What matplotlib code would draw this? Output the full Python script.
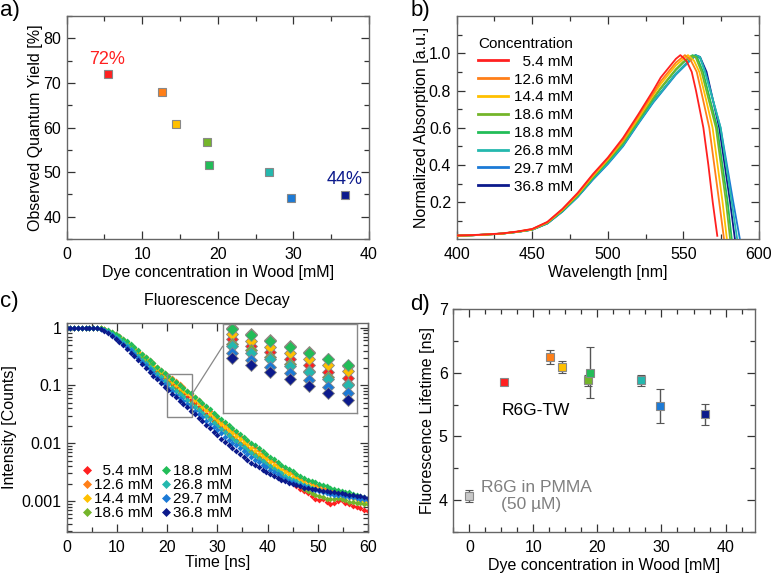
import matplotlib.pyplot as plt
import numpy as np
from matplotlib.lines import Line2D
from matplotlib.patches import Rectangle, ConnectionPatch
from matplotlib.ticker import MultipleLocator, FixedLocator, FixedFormatter, LogLocator, NullFormatter

plt.rcParams['font.family'] = ['Liberation Sans', 'DejaVu Sans']
plt.rcParams['font.size'] = 11.5

# --- shared sample info ---
conc = [5.4, 12.6, 14.4, 18.6, 18.8, 26.8, 29.7, 36.8]
conc_labels = ['  5.4 mM', '12.6 mM', '14.4 mM', '18.6 mM',
               '18.8 mM', '26.8 mM', '29.7 mM', '36.8 mM']
colors = ['#ff2020', '#ff7f18', '#ffc000', '#74b52a',
          '#22bd58', '#24b8ae', '#1c7ad6', '#0c1a8c']

# a) quantum yield
quantum_yield = [72, 68, 60.7, 56.7, 51.6, 50, 44.3, 44.8]

# b) absorption spectra (wavelength nm, normalized absorption)
wl_rise = [400, 410, 420, 430, 440, 450, 460, 470, 480, 490, 500, 510, 520, 530]
abs_red = [0.022, 0.024, 0.028, 0.033, 0.043, 0.057, 0.095, 0.165, 0.25, 0.35, 0.44, 0.545, 0.67, 0.80,
           0.87, 0.92, 0.97, 0.99, 0.96, 0.90, 0.80, 0.60, 0.40, 0.20, 0.02]
wl_red = wl_rise + [535, 540, 545, 548, 552, 555.5, 558.3, 563.2, 566.5, 569.4, 572.4]
abs_orange = [0.021, 0.023, 0.027, 0.032, 0.042, 0.056, 0.093, 0.162, 0.245, 0.345, 0.435, 0.535, 0.66, 0.785,
              0.85, 0.90, 0.95, 0.99, 0.96, 0.90, 0.75, 0.60, 0.40, 0.20, 0.0]
wl_orange = wl_rise + [535, 540, 545, 551, 555, 558.8, 563, 567.1, 570.4, 573.7, 576.9]
abs_yellow = [0.021, 0.023, 0.027, 0.032, 0.042, 0.055, 0.092, 0.16, 0.242, 0.34, 0.43, 0.53, 0.65, 0.775,
              0.835, 0.885, 0.935, 0.97, 0.99, 0.96, 0.90, 0.75, 0.60, 0.40, 0.20, 0.0]
wl_yellow = wl_rise + [535, 540, 545, 550, 553, 557, 560.5, 565, 569.3, 572.6, 575.9, 578.8]
abs_yg = [0.021, 0.023, 0.027, 0.032, 0.041, 0.054, 0.09, 0.157, 0.238, 0.335, 0.425, 0.52, 0.64, 0.76,
          0.815, 0.865, 0.915, 0.955, 0.985, 0.98, 0.90, 0.75, 0.60, 0.40, 0.20, 0.0]
wl_yg = wl_rise + [535, 540, 545, 550, 555, 558, 562, 566.7, 571.5, 574.8, 578.2, 580.9]
abs_green = [0.021, 0.023, 0.027, 0.032, 0.041, 0.054, 0.089, 0.155, 0.235, 0.33, 0.42, 0.515, 0.635, 0.755,
             0.81, 0.86, 0.91, 0.95, 0.99, 0.98, 0.90, 0.75, 0.60, 0.40, 0.20, 0.0]
wl_green = wl_rise + [535, 540, 545, 550, 556, 559, 563, 567.7, 572.4, 575.8, 579.3, 582]
abs_teal = [0.021, 0.023, 0.027, 0.032, 0.041, 0.053, 0.087, 0.152, 0.23, 0.325, 0.41, 0.505, 0.625, 0.74,
            0.79, 0.84, 0.89, 0.93, 0.97, 0.99, 0.98, 0.90, 0.75, 0.60, 0.40, 0.20, 0.0]
wl_teal = wl_rise + [535, 540, 545, 550, 555, 558, 561, 564.3, 569.5, 574.6, 578.3, 582, 585.6]
abs_blue = [0.021, 0.023, 0.027, 0.032, 0.041, 0.053, 0.086, 0.15, 0.228, 0.32, 0.405, 0.50, 0.62, 0.735,
            0.785, 0.835, 0.885, 0.925, 0.965, 0.985, 0.975, 0.90, 0.75, 0.60, 0.40, 0.20, 0.0]
wl_blue = wl_rise + [535, 540, 545, 550, 555, 558, 561, 564.5, 569.5, 574.6, 578.8, 583, 587.4]
abs_navy = [0.021, 0.023, 0.027, 0.032, 0.041, 0.053, 0.087, 0.152, 0.23, 0.325, 0.41, 0.505, 0.625, 0.74,
            0.79, 0.84, 0.89, 0.93, 0.97, 0.99, 0.98, 0.90, 0.75, 0.60, 0.40, 0.20, 0.0]
wl_navy = wl_rise + [535, 540, 545, 550, 555, 558, 561, 565.3, 569.5, 573.7, 577.3, 580.9, 584.1]

spectra_wl = [wl_red, wl_orange, wl_yellow, wl_yg, wl_green, wl_teal, wl_blue, wl_navy]
spectra_abs = [abs_red, abs_orange, abs_yellow, abs_yg, abs_green, abs_teal, abs_blue, abs_navy]

# c) fluorescence decay, log10 of normalized counts, one sample every 0.75 ns
decay_step_ns = 0.75
log_red = [0, 0, 0, 0, 0, 0, 0, 0, 0,
           -0.01, -0.03, -0.06, -0.095, -0.135, -0.18, -0.23, -0.28, -0.335, -0.39, -0.45, -0.51,
           -0.57, -0.63, -0.69, -0.75, -0.81, -0.865, -0.925, -0.98, -1.035, -1.09, -1.145, -1.20,
           -1.255, -1.31, -1.37, -1.43, -1.49, -1.55, -1.61, -1.67, -1.725, -1.78, -1.835, -1.89,
           -1.94, -1.99, -2.04, -2.09, -2.14, -2.19, -2.24, -2.29, -2.34, -2.39, -2.44, -2.49,
           -2.54, -2.59, -2.64, -2.69, -2.74, -2.79, -2.83, -2.87, -2.92, -2.96, -2.99, -2.97,
           -3.01, -3.06, -3.03, -3.00, -2.99, -3.04, -3.06, -3.08, -3.10, -3.13, -3.15, -3.17]
log_orange = [0, 0, 0, 0, 0, 0, 0, 0, 0,
              -0.01, -0.03, -0.055, -0.085, -0.115, -0.15, -0.195, -0.245, -0.295, -0.345, -0.40, -0.455,
              -0.51, -0.565, -0.62, -0.675, -0.73, -0.78, -0.83, -0.88, -0.93, -0.98, -1.035, -1.09,
              -1.15, -1.205, -1.26, -1.32, -1.38, -1.44, -1.50, -1.56, -1.61, -1.67, -1.72, -1.77,
              -1.82, -1.87, -1.92, -1.97, -2.02, -2.07, -2.12, -2.17, -2.22, -2.27, -2.31, -2.36,
              -2.40, -2.44, -2.48, -2.52, -2.56, -2.60, -2.63, -2.66, -2.69, -2.72, -2.75, -2.77,
              -2.79, -2.81, -2.83, -2.85, -2.86, -2.87, -2.88, -2.90, -2.93, -2.96, -2.98, -3.00]
log_yellow = [0, 0, 0, 0, 0, 0, 0, 0, 0,
              -0.01, -0.03, -0.06, -0.09, -0.13, -0.17, -0.215, -0.265, -0.32, -0.375, -0.43, -0.49,
              -0.545, -0.60, -0.66, -0.715, -0.77, -0.83, -0.885, -0.94, -0.99, -1.04, -1.09, -1.14,
              -1.19, -1.25, -1.31, -1.37, -1.43, -1.49, -1.55, -1.61, -1.665, -1.72, -1.775, -1.83,
              -1.88, -1.93, -1.98, -2.03, -2.08, -2.13, -2.18, -2.23, -2.28, -2.33, -2.37, -2.42,
              -2.46, -2.50, -2.54, -2.58, -2.62, -2.65, -2.69, -2.72, -2.75, -2.78, -2.80, -2.82,
              -2.84, -2.86, -2.88, -2.90, -2.91, -2.92, -2.93, -2.95, -2.97, -2.99, -3.00, -3.02]
log_yg = [0, 0, 0, 0, 0, 0, 0, 0, 0,
          -0.015, -0.04, -0.07, -0.11, -0.15, -0.195, -0.245, -0.30, -0.355, -0.415, -0.475, -0.535,
          -0.595, -0.655, -0.72, -0.78, -0.84, -0.905, -0.965, -1.02, -1.08, -1.135, -1.19, -1.245,
          -1.30, -1.355, -1.41, -1.47, -1.525, -1.58, -1.64, -1.695, -1.75, -1.80, -1.855, -1.91,
          -1.96, -2.01, -2.06, -2.11, -2.16, -2.21, -2.26, -2.31, -2.36, -2.41, -2.455, -2.50,
          -2.545, -2.59, -2.63, -2.67, -2.71, -2.75, -2.79, -2.83, -2.86, -2.89, -2.92, -2.94,
          -2.96, -2.97, -2.96, -2.95, -2.97, -2.99, -3.01, -3.02, -3.03, -3.04, -3.05, -3.06]
log_green = [0, 0, 0, 0, 0, 0, 0, 0, 0,
             -0.01, -0.025, -0.05, -0.08, -0.11, -0.145, -0.19, -0.24, -0.29, -0.34, -0.395, -0.45,
             -0.505, -0.56, -0.62, -0.675, -0.73, -0.785, -0.84, -0.89, -0.94, -0.99, -1.04, -1.09,
             -1.14, -1.195, -1.25, -1.30, -1.36, -1.41, -1.47, -1.53, -1.58, -1.63, -1.69, -1.74,
             -1.79, -1.84, -1.89, -1.94, -1.99, -2.04, -2.09, -2.14, -2.19, -2.24, -2.28, -2.33,
             -2.37, -2.41, -2.45, -2.49, -2.53, -2.56, -2.60, -2.63, -2.66, -2.68, -2.71, -2.73,
             -2.75, -2.77, -2.79, -2.81, -2.83, -2.84, -2.85, -2.88, -2.90, -2.92, -2.94, -2.97]
log_teal = [0, 0, 0, 0, 0, 0, 0, 0, 0,
            -0.02, -0.045, -0.075, -0.115, -0.16, -0.205, -0.255, -0.31, -0.37, -0.43, -0.49, -0.555,
            -0.615, -0.68, -0.74, -0.80, -0.86, -0.92, -0.98, -1.04, -1.095, -1.15, -1.205, -1.26,
            -1.315, -1.37, -1.425, -1.48, -1.535, -1.59, -1.645, -1.70, -1.755, -1.81, -1.865, -1.92,
            -1.97, -2.02, -2.07, -2.12, -2.17, -2.22, -2.27, -2.315, -2.36, -2.40, -2.44, -2.48,
            -2.52, -2.56, -2.60, -2.63, -2.66, -2.69, -2.72, -2.75, -2.77, -2.79, -2.81, -2.83,
            -2.85, -2.87, -2.88, -2.89, -2.88, -2.90, -2.92, -2.93, -2.94, -2.95, -2.96, -2.97]
log_blue = [0, 0, 0, 0, 0, 0, 0, 0, 0,
            -0.025, -0.05, -0.085, -0.13, -0.175, -0.225, -0.28, -0.335, -0.395, -0.46, -0.525, -0.59,
            -0.655, -0.72, -0.785, -0.85, -0.915, -0.975, -1.04, -1.10, -1.16, -1.215, -1.27, -1.325,
            -1.38, -1.44, -1.50, -1.555, -1.61, -1.665, -1.72, -1.775, -1.83, -1.885, -1.94, -1.99,
            -2.04, -2.09, -2.14, -2.19, -2.24, -2.285, -2.33, -2.375, -2.42, -2.46, -2.50, -2.54,
            -2.58, -2.615, -2.65, -2.68, -2.71, -2.73, -2.75, -2.77, -2.79, -2.81, -2.83, -2.85,
            -2.86, -2.88, -2.89, -2.90, -2.89, -2.91, -2.93, -2.94, -2.95, -2.96, -2.97, -2.98]
log_navy = [0, 0, 0, 0, 0, 0, 0, 0, 0,
            -0.03, -0.06, -0.10, -0.15, -0.20, -0.255, -0.31, -0.37, -0.435, -0.50, -0.565, -0.63,
            -0.70, -0.765, -0.83, -0.895, -0.96, -1.02, -1.085, -1.145, -1.205, -1.265, -1.32, -1.38,
            -1.44, -1.50, -1.56, -1.62, -1.68, -1.74, -1.80, -1.86, -1.92, -1.975, -2.03, -2.085,
            -2.14, -2.19, -2.24, -2.29, -2.34, -2.38, -2.42, -2.46, -2.50, -2.54, -2.57, -2.60,
            -2.63, -2.66, -2.69, -2.71, -2.73, -2.75, -2.77, -2.78, -2.79, -2.80, -2.81, -2.82,
            -2.83, -2.84, -2.85, -2.86, -2.86, -2.88, -2.89, -2.90, -2.91, -2.92, -2.93, -2.95]
decay_logs = [log_red, log_orange, log_yellow, log_yg, log_green, log_teal, log_blue, log_navy]

# d) lifetimes
lifetime = [5.86, 6.25, 6.09, 5.88, 6.0, 5.88, 5.48, 5.35]
lifetime_err = [0.03, 0.105, 0.095, 0.09, 0.4, 0.09, 0.27, 0.165]
pmma_conc = [0]
pmma_lifetime = [4.06]
pmma_err = [0.09]

SPINE = '#666666'
TICK = '#333333'


def style(ax):
    for s in ax.spines.values():
        s.set_color(SPINE)
        s.set_linewidth(1.0)
    ax.tick_params(which='both', direction='in', top=True, right=True, color=TICK, width=0.9)
    ax.tick_params(which='major', length=6)
    ax.tick_params(which='minor', length=3.5)
    ax.tick_params(axis='x', pad=6)
    ax.tick_params(axis='y', pad=4)


fig = plt.figure(figsize=(7.71, 5.74), dpi=100)
W, H = 771, 574


def box(l, t, r, b):
    return [l / W, 1 - b / H, (r - l) / W, (b - t) / H]


# ---------------- a) ----------------
ax = fig.add_axes(box(66.7, 16, 369, 239))
for x, y, c in zip(conc, quantum_yield, colors):
    ax.plot(x, y, 's', color=c, ms=5.5, mec='#888888', mew=0.8)
ax.text(5.3, 75.3, '72%', color=colors[0], ha='center', va='center', fontsize=13)
ax.text(36.8, 48.3, '44%', color=colors[-1], ha='center', va='center', fontsize=13)
ax.set_xlim(0, 40)
ax.set_ylim(35, 85)
ax.xaxis.set_major_locator(MultipleLocator(10))
ax.xaxis.set_minor_locator(MultipleLocator(5))
ax.yaxis.set_major_locator(FixedLocator([40, 50, 60, 70, 80]))
ax.yaxis.set_minor_locator(MultipleLocator(5))
ax.set_xlabel('Dye concentration in Wood [mM]', labelpad=2)
ax.set_ylabel('Observed Quantum Yield [%]', labelpad=0)
style(ax)

# ---------------- b) ----------------
ax = fig.add_axes(box(456.7, 16, 759, 239))
lines = []
for wl, ab, c, lab in zip(spectra_wl, spectra_abs, colors, conc_labels):
    ln, = ax.plot(wl, ab, '-', color=c, lw=1.3, label=lab)
    lines.append(ln)
for i, ln in enumerate(lines):
    ln.set_zorder(10 - i)
ax.set_xlim(400, 600)
ax.set_ylim(0.003, 1.2)
ax.xaxis.set_major_locator(MultipleLocator(50))
ax.xaxis.set_minor_locator(MultipleLocator(25))
ax.yaxis.set_major_locator(FixedLocator([0.2, 0.4, 0.6, 0.8, 1.0]))
ax.yaxis.set_minor_locator(FixedLocator([0.1, 0.3, 0.5, 0.7, 0.9, 1.1]))
ax.yaxis.set_major_formatter(FixedFormatter(['0.2', '0.4', '0.6', '0.8', '1.0']))
ax.set_xlabel('Wavelength [nm]', labelpad=2)
ax.set_ylabel('Normalized Absorption [a.u.]', labelpad=0)
leg = ax.legend(handles=lines, title='Concentration', loc='upper left',
                bbox_to_anchor=(0.045, 0.94), frameon=False, borderpad=0,
                handlelength=2.0, handletextpad=0.35, labelspacing=0.25,
                fontsize=11, title_fontsize=11, alignment='left')
for h in leg.legend_handles:
    h.set_linewidth(2)
style(ax)

# ---------------- c) ----------------
ax = fig.add_axes(box(66.7, 323, 368, 532))
decay_time = np.arange(len(log_red)) * decay_step_ns
for lg, c in zip(decay_logs, colors):
    ax.plot(decay_time, 10 ** np.array(lg), 'D', color=c, ms=3.0, mew=0)
ax.set_yscale('log')
ax.set_xlim(0, 60)
ax.set_ylim(2.9e-4, 1.2)
ax.xaxis.set_major_locator(MultipleLocator(10))
ax.xaxis.set_minor_locator(MultipleLocator(5))
ax.yaxis.set_major_locator(FixedLocator([1e-3, 1e-2, 1e-1, 1]))
ax.yaxis.set_major_formatter(FixedFormatter(['0.001', '0.01', '0.1', '1']))
ax.yaxis.set_minor_locator(LogLocator(base=10, subs=np.arange(2, 10)))
ax.yaxis.set_minor_formatter(NullFormatter())
ax.set_xlabel('Time [ns]', labelpad=0)
ax.set_ylabel('Intensity [Counts]', labelpad=3)
ax.set_title('Fluorescence Decay', fontsize=11.5, pad=13)
handles = [Line2D([], [], ls='none', marker='D', ms=4.5, mfc=c, mec=c, mew=0.5)
           for c in colors]
ax.legend(handles, conc_labels, ncol=2, loc='lower left', bbox_to_anchor=(0.03, 0.02),
          frameon=False, borderpad=0, handlelength=0.5, handletextpad=0.2,
          columnspacing=0.6, labelspacing=0.0, fontsize=11)
style(ax)

# zoom rectangle + inset
zx0, zx1, zy0, zy1 = 20, 25, 0.0285, 0.159
ax.add_patch(Rectangle((zx0, zy0), zx1 - zx0, zy1 - zy0, fill=False, ec='#888888', lw=1, zorder=5))
axin = fig.add_axes(box(222.7, 324, 356.7, 412.7))
for lg, c in zip(decay_logs, colors):
    axin.plot(decay_time, 10 ** np.array(lg), 'D', color=c, ms=6, mec='#888888', mew=0.6)
axin.set_yscale('log')
axin.set_xlim(19.9, 25.1)
axin.set_ylim(zy0, zy1)
axin.set_xticks([])
axin.set_yticks([])
axin.yaxis.set_minor_locator(FixedLocator([]))
for s in axin.spines.values():
    s.set_color('#888888')
    s.set_linewidth(1)
con = ConnectionPatch(xyA=(25, 0.071), coordsA=ax.transData, xyB=(0, 0.75),
                      coordsB=axin.transAxes, color='#888888', lw=0.9)
fig.add_artist(con)

# ---------------- d) ----------------
ax = fig.add_axes(box(453.3, 309.3, 755, 531.7))
for x, y, e, c in zip(conc, lifetime, lifetime_err, colors):
    ax.errorbar(x, y, yerr=e, fmt='s', color=c, ms=5.5, mec='#888888', mew=0.8,
                ecolor='#555555', elinewidth=1, capsize=3, capthick=1)
ax.errorbar(pmma_conc, pmma_lifetime, yerr=pmma_err, fmt='s', color='#c8c8c8', ms=5.5,
            mec='#888888', mew=0.8, ecolor='#555555', elinewidth=1, capsize=3, capthick=1)
ax.text(5.0, 5.4, 'R6G-TW', ha='left', va='center', fontsize=12.5)
ax.text(1.8, 4.2, 'R6G in PMMA', ha='left', va='center', fontsize=12.5, color='#808080')
ax.text(9.6, 3.93, '(50 \u00b5M)', ha='center', va='center', fontsize=12.5, color='#808080')
ax.set_xlim(-2.5, 44.6)
ax.set_ylim(3.5, 7)
ax.xaxis.set_major_locator(MultipleLocator(10))
ax.xaxis.set_minor_locator(MultipleLocator(2.5))
ax.yaxis.set_major_locator(MultipleLocator(1))
ax.yaxis.set_minor_locator(MultipleLocator(0.5))
ax.set_xlabel('Dye concentration in Wood [mM]', labelpad=2)
ax.set_ylabel('Fluorescence Lifetime [ns]', labelpad=3)
style(ax)

# panel letters
fig.text(0.0, 1.0, 'a)', fontsize=16, va='top', ha='left')
fig.text(411 / W, 1.0, 'b)', fontsize=16, va='top', ha='left')
fig.text(0.0, 1 - 291 / H, 'c)', fontsize=16, va='top', ha='left')
fig.text(410 / W, 1 - 294 / H, 'd)', fontsize=16, va='top', ha='left')

fig.savefig('out.png', dpi=100)
